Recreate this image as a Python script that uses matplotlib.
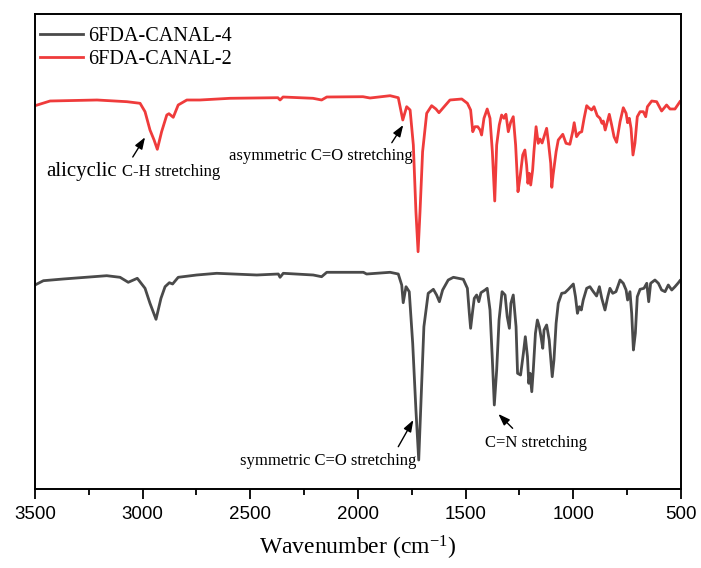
import matplotlib
matplotlib.use("Agg")
import matplotlib.pyplot as plt

# ---- data (wavenumber cm-1, transmittance in arbitrary offset units) ----
wn_canal2 = [3500, 3430, 3212, 3073, 3012, 2989, 2966, 2947, 2932, 2912, 2888, 2878, 2858, 2835,
             2795, 2734, 2594, 2372, 2362, 2348, 2209, 2169, 2145, 1977, 1944, 1851, 1813, 1792,
             1774, 1758, 1743, 1731, 1721, 1712, 1700, 1681, 1658, 1638, 1624, 1604, 1573, 1518,
             1492, 1477, 1467, 1457, 1444, 1433, 1426, 1415, 1400, 1387, 1376, 1365, 1356, 1344,
             1333, 1322, 1313, 1302, 1291, 1279, 1268, 1257, 1248, 1235, 1225, 1217, 1211, 1205,
             1198, 1189, 1183, 1173, 1163, 1155, 1145, 1124, 1116, 1105, 1100, 1094, 1080, 1070,
             1049, 1034, 1016, 1003, 996, 985, 972, 961, 950, 938, 926, 915, 904, 889, 876, 867,
             861, 852, 833, 822, 811, 799, 783, 768, 755, 748, 740, 732, 723, 714, 703, 690, 675,
             664, 656, 636, 613, 590, 567, 551, 528, 505]
t_canal2 = [383.3, 388, 389, 387.3, 385.7, 377.3, 359, 349, 339.7, 357.3, 374, 375.3, 371.7, 384,
            389, 389, 390.7, 391.3, 389, 392, 390.7, 389, 392, 392.3, 391, 393.3, 391.3, 369,
            382.3, 379, 344, 277.3, 237.3, 277.3, 337.3, 375.7, 383.3, 380, 376.3, 381.3, 389, 390,
            385.7, 379, 357.3, 362.3, 362.3, 359, 354, 370.7, 380, 370.7, 337.3, 288, 344, 364,
            374, 370.7, 374.7, 357.3, 366.7, 372.3, 344, 297.3, 310.7, 334, 339, 324, 305.7, 315.7,
            304, 319, 337.3, 362.3, 345.7, 350, 346, 360.7, 347.3, 325.7, 301.7, 314, 337.3, 349,
            354.7, 345.7, 344.7, 357.3, 366.3, 352.3, 356.3, 357.3, 370.7, 383.3, 380.7, 379, 382.3, 373.3, 370.7, 365.7,
            368, 359, 374.7, 364, 352.3, 346.7, 367.3, 381.3, 375.7, 366.3, 370.7, 360.7, 334, 345.7, 372.3, 377.3, 377.3,
            372.3, 382.3, 388, 387.3, 378, 384, 380, 380, 387.3]

wn_canal4 = [3500, 3461, 3369, 3167, 3105, 3067, 3025, 2989, 2966, 2938, 2915, 2896, 2876, 2861,
             2835, 2749, 2656, 2470, 2370, 2362, 2347, 2208, 2169, 2145, 1975, 1960, 1851, 1813,
             1797, 1790, 1777, 1762, 1746, 1731, 1718, 1706, 1694, 1674, 1650, 1635, 1622, 1607,
             1581, 1557, 1511, 1492, 1483, 1477, 1467, 1460, 1449, 1439, 1429, 1410, 1400, 1387,
             1376, 1367, 1356, 1345, 1331, 1317, 1307, 1297, 1290, 1279, 1266, 1259, 1245, 1232,
             1223, 1213, 1207, 1201, 1193, 1186, 1176, 1167, 1158, 1149, 1142, 1136, 1124, 1112,
             1098, 1090, 1080, 1070, 1054, 1039, 1023, 1000, 990, 981, 972, 963, 954, 938, 923,
             907, 892, 879, 868, 853, 840, 830, 817, 802, 783, 768, 755, 748, 737, 729, 721, 712,
             703, 690, 672, 659, 650, 641, 621, 605, 590, 574, 559, 543, 528, 512, 505]
t_canal4 = [204, 208.3, 210, 213.3, 211.7, 206.7, 210.7, 200.7, 185.7, 169.7, 190.7, 202.3, 206.3, 205,
            211.7, 214, 215.7, 214, 215, 211.7, 215.7, 214, 212.3, 216.7, 216.7, 215, 216.7, 215,
            204, 186.3, 202.3, 197.3, 145.7, 79, 29, 95.7, 162.3, 195.7, 199.7, 194, 187.3, 199,
            209, 211.7, 209.7, 200.7, 175.7, 160.7, 179, 190.7, 194, 187.3, 196.3, 199, 200.7, 179,
            129, 84, 119, 169, 197.3, 194, 172.3, 160.7, 185.7, 194, 162.3, 115.7, 114, 135.7,
            152.3, 132.3, 105.7, 115.7, 97.3, 119, 155.7, 169, 162.3, 150.7, 140.7, 159, 164, 149,
            112.3, 129, 165.7, 185.7, 195.7, 196.3, 199.7, 205, 192.3, 175.7, 182.3, 179, 189, 200.7, 202.3,
            197.3, 193, 202.3, 190.7, 179, 192.3, 200.7, 195.7, 197.3, 209, 205.7, 199, 189, 197.3, 175.7, 139, 155.7,
            192.3, 199.7, 200.7, 205.7, 187.3, 205.7, 209, 205.7, 199, 197.3, 204, 199, 202.3, 206.3, 208.3]

series_labels = ["6FDA-CANAL-4", "6FDA-CANAL-2"]
x_ticks = [3500, 3000, 2500, 2000, 1500, 1000, 500]
x_label = "Wavenumber (cm$^{-1}$)"

# ---- style ----
plt.rcParams['font.family'] = ['Liberation Serif', 'DejaVu Serif']
plt.rcParams['mathtext.fontset'] = 'custom'
plt.rcParams['mathtext.rm'] = 'Liberation Serif'
plt.rcParams['mathtext.it'] = 'Liberation Serif:italic'

fig = plt.figure(figsize=(7.01, 5.68), dpi=100)
ax = fig.add_axes([35/701, 1-489/568, (681-35)/701, (489-14)/568])

c_black = '#4a4a4a'
c_red = '#ef3b3b'
l4, = ax.plot(wn_canal4, t_canal4, color=c_black, lw=2.0, solid_joinstyle='round')
l2, = ax.plot(wn_canal2, t_canal2, color=c_red, lw=2.0, solid_joinstyle='round')

ax.set_xlim(3500, 500)
ax.set_ylim(0, 475)
ax.set_yticks([])
ax.set_xticks(x_ticks)
ax.set_xticks([3250, 2750, 2250, 1750, 1250, 750], minor=True)
for lbl in ax.get_xticklabels():
    lbl.set_fontfamily('Liberation Sans')
    lbl.set_fontsize(13.5)
ax.tick_params(axis='x', which='major', direction='out', length=7, width=1.3, pad=5)
ax.tick_params(axis='x', which='minor', direction='out', length=4, width=1.3)
for s in ax.spines.values():
    s.set_linewidth(1.4)
ax.set_xlabel(x_label, fontsize=17, labelpad=8)

leg = ax.legend([l4, l2], series_labels, loc='upper left', bbox_to_anchor=(0.0, 0.9832),
                frameon=False, fontsize=14.6, handlelength=2.1, handletextpad=0.25,
                labelspacing=0.17, borderpad=0.25, borderaxespad=0.0)

arrow = dict(arrowstyle='-|>,head_length=0.7,head_width=0.25', color='black', lw=1.0,
             shrinkA=0, shrinkB=0)

# alicyclic C-H
ax.text(3449, 313, "alicyclic", fontsize=15, ha='left', va='baseline')
ax.text(3096, 313, "C-H stretching", fontsize=12, ha='left', va='baseline')
ax.annotate("", xy=(2989, 351.7), xytext=(3046, 332), arrowprops=arrow)

# asymmetric C=O
ax.text(2599, 329, "asymmetric C=O stretching", fontsize=12, ha='left', va='baseline')
ax.annotate("", xy=(1790, 364), xytext=(1843, 346.3), arrowprops=arrow)

# symmetric C=O
ax.text(2548, 24, "symmetric C=O stretching", fontsize=12, ha='left', va='baseline')
ax.annotate("", xy=(1743, 69), xytext=(1813, 42.3), arrowprops=arrow)

# C=N
ax.text(1410, 42, "C=N stretching", fontsize=12, ha='left', va='baseline')
ax.annotate("", xy=(1348, 75), xytext=(1282, 60.7), arrowprops=arrow)

fig.savefig("out.png", dpi=100)
